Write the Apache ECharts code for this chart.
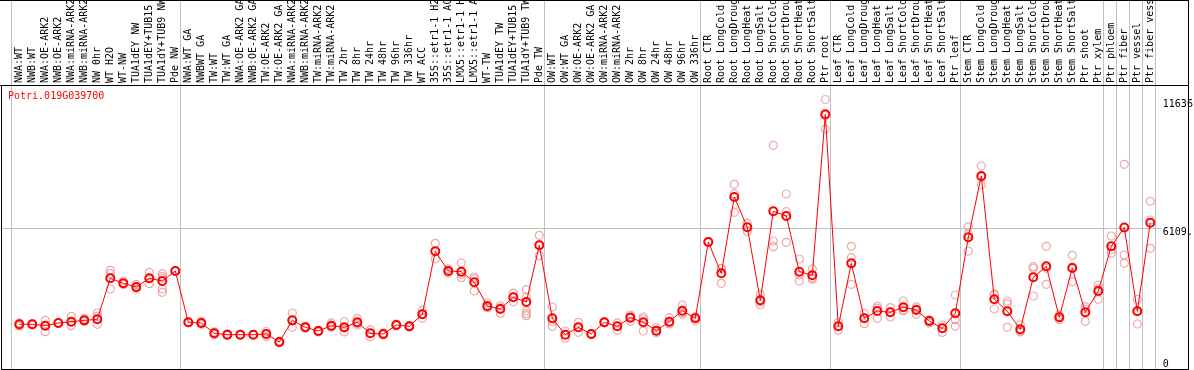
<!DOCTYPE html>
<html><head><meta charset="utf-8">
<script src="https://cdn.jsdelivr.net/npm/echarts@6/dist/echarts.min.js"></script>
<style>html,body{margin:0;padding:0;background:#fff}#c{width:1194px;height:370px}</style>
</head><body><div id="c"></div>
<script>
const geneTitle = 'Potri.019G039700';

const categories = [
  'NWA:WT','NWB:WT','NWA:OE-ARK2','NWB:OE-ARK2','NWA:miRNA-ARK2','NWB:miRNA-ARK2','NW 0hr','WT H2O','WT-NW','TUA1dEY NW','TUA1dEY+TUB15','TUA1dY+TUB9 NW','Pde NW',
  'NWA:WT GA','NWBWT GA','TW:WT','TW:WT GA','NWA:OE-ARK2 GA','NWB:OE-ARK2 GA','TW:OE-ARK2','TW:OE-ARK2 GA','NWA:miRNA-ARK2','NWB:miRNA-ARK2','TW:miRNA-ARK2','TW:miRNA-ARK2','TW 2hr','TW 8hr','TW 24hr','TW 48hr','TW 96hr','TW 336hr','WT ACC','35S::etr1-1 H2','35S::etr1-1 AC','LMX5::etr1-1 H','LMX5::etr1-1 A','WT-TW','TUA1dEY TW','TUA1dEY+TUB15','TUA1dY+TUB9 TW','Pde TW',
  'OW:WT','OW:WT GA','OW:OE-ARK2','OW:OE-ARK2 GA','OW:miRNA-ARK2','OW:miRNA-ARK2','OW 2hr','OW 8hr','OW 24hr','OW 48hr','OW 96hr','OW 336hr',
  'Root CTR','Root LongCold','Root LongDroug','Root LongHeat','Root LongSalt','Root ShortCold','Root ShortDrou','Root ShortHeat','Root ShortSalt','Ptr root',
  'Leaf CTR','Leaf LongCold','Leaf LongDroug','Leaf LongHeat','Leaf LongSalt','Leaf ShortCold','Leaf ShortDrou','Leaf ShortHeat','Leaf ShortSalt','Ptr leaf',
  'Stem CTR','Stem LongCold','Stem LongDroug','Stem LongHeat','Stem LongSalt','Stem ShortCold','Stem ShortDrou','Stem ShortHeat','Stem ShortSalt','Ptr shoot','Ptr xylem',
  'Ptr phloem','Ptr fiber','Ptr vessel','Ptr fiber vess'
];

const groupSizes = [13, 28, 12, 10, 10, 11, 1, 1, 1, 1];

const meanValues = [
  1930,1930,1870,1986,2043,2100,2145,3916,3700,3541,3916,3800,4232,
  2016,1986,1541,1482,1482,1482,1511,1166,2100,1800,1641,1870,1800,2016,1541,1511,1900,1843,2362,5082,4232,4203,3744,2720,2591,3096,2893,5341,
  2189,1482,1800,1511,2016,1843,2217,2016,1656,2043,2519,2189,
  5484,4131,7427,6118,2965,6809,6607,4203,4045,10998,
  1843,4563,2189,2504,2447,2663,2548,2073,1756,2404,
  5687,8334,3010,2491,1714,3959,4434,2232,4361,2447,3368,
  5298,6109,2491,6317
];

const replicateValues = [
  [1990,1880,1850],[1950,1900,1930],[2100,1610,1880],[1986,1990,1980],[2275,1870,2050],[2190,2050,2100],[2418,2275,1930],[4262,4116,3454],[3800,3650,3700],[3650,3450,3520],[4175,3683,3900],[4116,4002,3916,3454,3311],[4250,4220,4230],
  [2030,2000,2016],[2050,1930,1980],[1600,1480,1540],[1520,1450,1480],[1500,1460,1490],[1500,1470,1480],[1620,1400,1510],[1200,1130,1170],[2418,1800,2080],[1850,1760,1800],[1680,1600,1640],[1990,1830,1800],[2040,1600,1760],[2190,1900,1960],[1700,1380,1540],[1560,1470,1500],[1940,1860,1900],[1880,1800,1850],[2540,2190,2360],[5428,4750,5070],[4320,4150,4230],[4577,3944,4090],[3973,3368,3890],[2850,2650,2660],[2730,2400,2640],[3280,2900,3100],[3424,3100,2504,2388,2301],[5773,4892,5360],
  [2677,1843,2050],[1640,1330,1480],[2016,1584,1800],[1540,1480,1510],[2040,1990,2016],[1990,1671,1860],[2330,2060,2260],[2245,1641,2160],[1780,1560,1640],[2215,1950,1960],[2764,2360,2430],[2080,2250,2230],
  [5500,5470,5480],[4348,3700,4340],[7975,6766,7560],[6300,5940,6110],[3225,2764,2900],[9660,5527,5282],[7557,6793,5470],[4750,3800,4060],[4320,3880,3940],[11636,10363,10940],
  [2016,1671,1840],[5298,4808,3657],[2400,1957,2210],[2700,2189,2620],[2650,2245,2450],[2936,2520,2540],[2680,2360,2600],[2120,1990,2100],[1900,1580,1780],[3195,2130,1843],
  [6145,5095,5820],[8766,7945,8290],[3240,2591,3200],[2936,2820,1800],[1900,1600,1650],[4418,4350,3152],[5298,4350,3657],[2330,2130,2240],[4909,3770,4400],[2690,2059,2590],[3627,3010,3460],
  [5743,4996,5160],[8839,4923,4563],[3010,1943,2520],[7241,6434,5212]
];

const yTickValues = [0, 6109, 11636];
const yTickLabels = ['0', '6109.', '11636'];
const referenceValue = 6109;

const FONT = "'DejaVu Sans Mono', monospace";
const Y_MAX = 15933;

const repPoints = [];
replicateValues.forEach((reps, i) => reps.forEach(v => repPoints.push([i, v])));

const labelFor = v => yTickLabels[yTickValues.indexOf(v)];

const yBase = {
  type: 'value', position: 'right', min: 0, max: Y_MAX,
  splitLine: { show: false }, axisLine: { show: false }, axisTick: { show: false }
};

const chart = echarts.init(document.getElementById('c'), null, { renderer: 'canvas' });
chart.setOption({
  animation: false,
  backgroundColor: '#ffffff',
  title: {
    text: geneTitle, left: 8, top: 91, padding: 0,
    textStyle: { color: '#ff0000', fontSize: 10, fontWeight: 'normal', fontFamily: FONT }
  },
  grid: { left: 12.8, right: 37.2, top: 0, bottom: 1, containLabel: false, outerBoundsMode: 'none' },
  xAxis: {
    type: 'category', data: categories, position: 'top', offset: -85, boundaryGap: true,
    axisLine: { show: false }, axisTick: { show: false }, splitLine: { show: false },
    axisLabel: { interval: 0, rotate: 90, margin: 2, fontSize: 10, fontFamily: FONT, color: '#000' }
  },
  yAxis: [
    Object.assign({}, yBase, {
      axisLabel: { customValues: yTickValues.filter(v => v > 0), formatter: labelFor, verticalAlign: 'top',
        margin: 6, fontSize: 10, fontFamily: FONT, color: '#000', showMinLabel: true, showMaxLabel: true }
    }),
    Object.assign({}, yBase, {
      axisLabel: { customValues: yTickValues.filter(v => v === 0), formatter: labelFor, verticalAlign: 'bottom',
        margin: 6, fontSize: 10, fontFamily: FONT, color: '#000', showMinLabel: true }
    })
  ],
  series: [
    {
      type: 'scatter', data: repPoints, symbol: 'circle', symbolSize: 8, silent: true, z: 2,
      itemStyle: { color: 'rgba(0,0,0,0)', borderColor: '#ea9595', borderWidth: 1.2 }
    },
    {
      type: 'line', data: meanValues, symbol: 'circle', symbolSize: 8, showAllSymbol: true, silent: true, z: 3,
      lineStyle: { color: '#ff0000', width: 1 },
      itemStyle: { color: 'rgba(0,0,0,0)', borderColor: '#ff0000', borderWidth: 2 }
    }
  ]
});

// separators, reference line and frame, placed through the chart's own scales
const sepShift = -2;
const xa = i => chart.convertToPixel({ xAxisIndex: 0 }, i);
const band = xa(1) - xa(0);
const bounds = [0];
groupSizes.forEach(s => bounds.push(bounds[bounds.length - 1] + s));
const yRef = Math.round(chart.convertToPixel({ yAxisIndex: 0 }, referenceValue)) + 0.5;
const gray = '#c0c0c0';
const elements = [];
bounds.forEach(k => {
  const x = Math.round(xa(0) + (k - 0.5) * band + sepShift) + 0.5;
  elements.push({ type: 'line', silent: true, z: 1, shape: { x1: x, y1: 0, x2: x, y2: 369 }, style: { stroke: gray, lineWidth: 1 } });
});
elements.push({ type: 'line', silent: true, z: 1, shape: { x1: 1, y1: yRef, x2: 1161, y2: yRef }, style: { stroke: gray, lineWidth: 1 } });
const black = '#000';
[
  [0, 0.5, 1188, 0.5],
  [0, 85.5, 1188, 85.5],
  [1.5, 85, 1.5, 370],
  [1, 369.5, 1189, 369.5],
  [1188.5, 0, 1188.5, 370]
].forEach(s => elements.push({ type: 'line', silent: true, z: 10, shape: { x1: s[0], y1: s[1], x2: s[2], y2: s[3] }, style: { stroke: black, lineWidth: 1 } }));
chart.setOption({ graphic: { elements } });
</script>
</body></html>
